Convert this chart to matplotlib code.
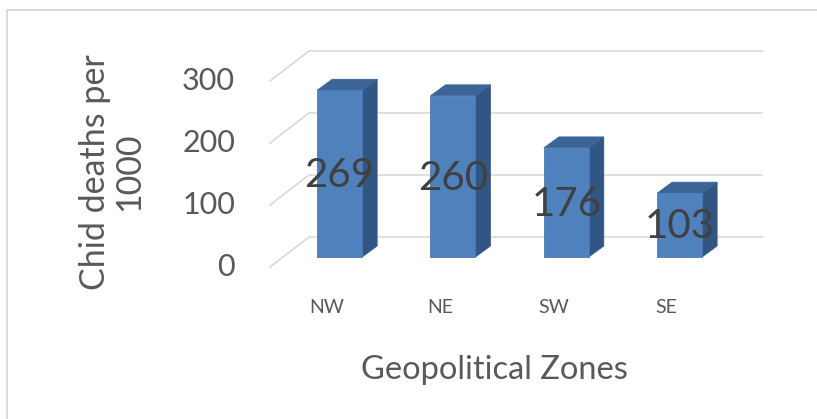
import matplotlib.pyplot as plt
from matplotlib.patches import Rectangle, Polygon

zones = ['NW', 'NE', 'SW', 'SE']
deaths = [269, 260, 176, 103]
yticks = [0, 100, 200, 300]

plt.rcParams['font.family'] = ['Lato', 'DejaVu Sans']

W, H = 817, 419
fig = plt.figure(figsize=(W / 100, H / 100), dpi=100)

# outer chart border (only left and top visible)
fig.add_artist(Rectangle((7 / W, -0.1), 1.2, 1.1 - 10 / H, transform=fig.transFigure,
                         fill=False, ec='#d9d9d9', lw=1.3))

# axes = plane where the bar fronts stand
ax = fig.add_axes([283 / W, (H - 257) / H, 453.3 / W, 186 / H])
ax.set_xlim(-0.5, len(zones) - 0.5)
ax.set_ylim(0, 300)
ax.axis('off')

px_x = 453.3 / len(zones)   # pixels per category
px_y = 186 / 300            # pixels per unit value


def off(dx, dy):
    return dx / px_x, dy / px_y


bdx, bdy = off(26, 20)    # back wall
fdx, fdy = off(-13, -10)  # front edge of floor
ddx, ddy = off(15, 11)    # bar depth
bw = 45 / px_x

grid_c = '#d9d9d9'
x_left, x_right = -0.5, len(zones) - 0.5
for t in yticks:
    ax.plot([x_left + fdx, x_left + bdx, x_right + bdx], [t + fdy, t + bdy, t + bdy],
            color=grid_c, lw=1.2, clip_on=False, zorder=1)
    ax.text(x_left + fdx - 35 / px_x, t + fdy, str(t), ha='right', va='center',
            fontsize=22, color='#595959', clip_on=False)

front_c, side_c, top_c = '#4f81bd', '#325683', '#3c6597'
for i, v in enumerate(deaths):
    x0, x1 = i - bw / 2, i + bw / 2
    ax.add_patch(Polygon([(x1, 0), (x1 + ddx, ddy), (x1 + ddx, v + ddy), (x1, v)],
                         closed=True, fc=side_c, ec=side_c, lw=0.5, clip_on=False, zorder=2))
    ax.add_patch(Polygon([(x0, v), (x1, v), (x1 + ddx, v + ddy), (x0 + ddx, v + ddy)],
                         closed=True, fc=top_c, ec=top_c, lw=0.5, clip_on=False, zorder=2))
    ax.add_patch(Rectangle((x0, 0), bw, v, fc=front_c, ec='#4a7ab3', lw=0.6,
                           clip_on=False, zorder=3))
    ax.text(i, v / 2 - 3, str(v), ha='center', va='center', fontsize=29,
            color='#404040', zorder=4, clip_on=False)
    ax.text(i + fdx, -82, zones[i], ha='center', va='center', fontsize=14,
            color='#595959', clip_on=False)

fig.text(494 / W, 1 - 370 / H, 'Geopolitical Zones', ha='center', va='center',
         fontsize=23.5, color='#595959')
fig.text(112 / W, 1 - 172 / H, 'Chid deaths per\n1000', ha='center', va='center',
         rotation=90, multialignment='center', fontsize=24.5, color='#595959',
         linespacing=1.1)

fig.savefig('out.png', dpi=100)
